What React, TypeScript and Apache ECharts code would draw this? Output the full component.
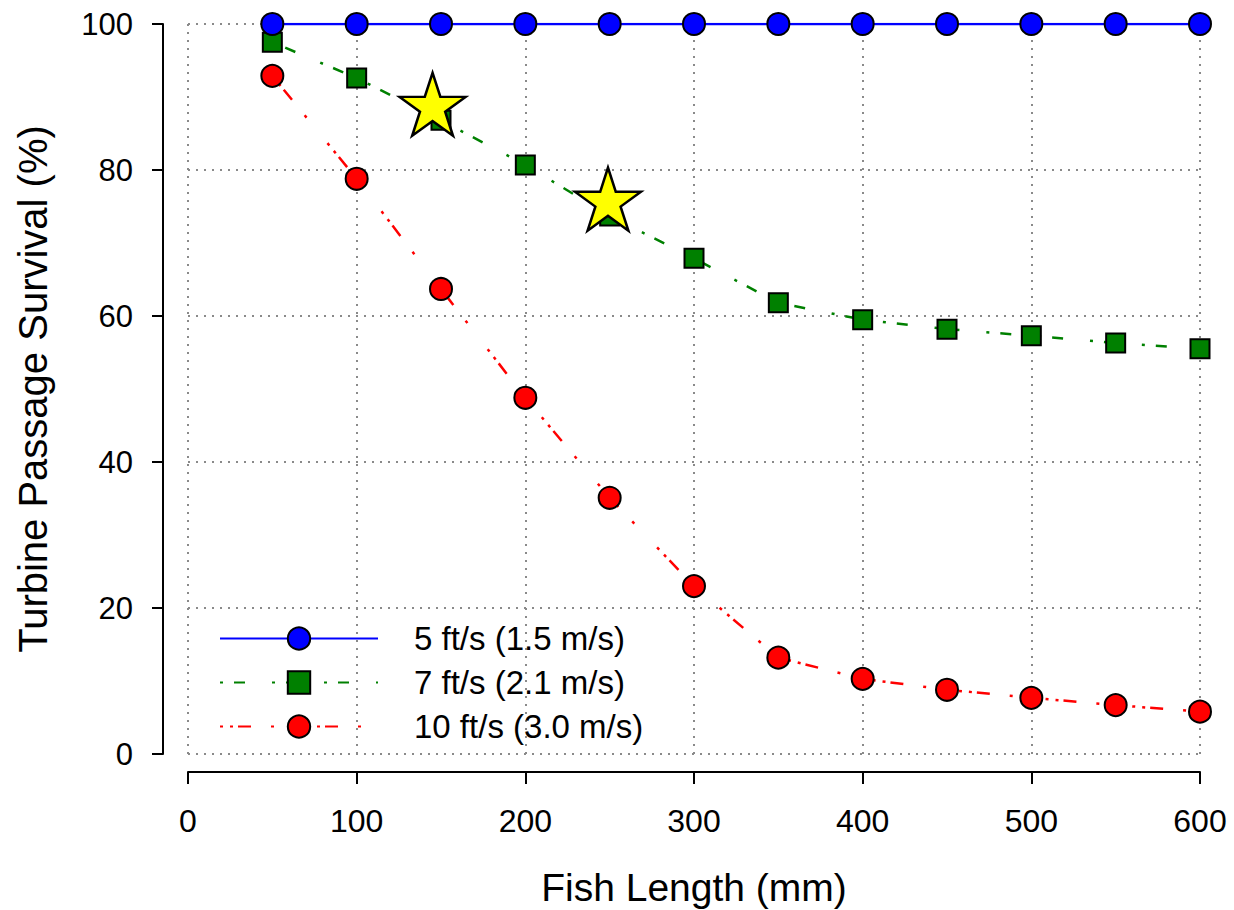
import React, { useEffect, useRef } from "react";
import * as echarts from "echarts";

const fishLength = [50, 100, 150, 200, 250, 300, 350, 400, 450, 500, 550, 600];
const survival5 = [100, 100, 100, 100, 100, 100, 100, 100, 100, 100, 100, 100];
const survival7 = [97.5, 92.6, 86.8, 80.7, 73.7, 67.9, 61.8, 59.5, 58.2, 57.3, 56.3, 55.5];
const survival10 = [92.9, 78.8, 63.7, 48.8, 35.1, 23.0, 13.2, 10.3, 8.8, 7.7, 6.7, 5.8];
const starX = [145, 249];
const starY = [89, 76];
const seriesNames = ["5 ft/s (1.5 m/s)", "7 ft/s (2.1 m/s)", "10 ft/s (3.0 m/s)"];
const xTitle = "Fish Length (mm)";
const yTitle = "Turbine Passage Survival (%)";

const STAR =
  "path://M50 0 L61.23 34.55 L97.55 34.55 L68.17 55.9 L79.39 90.45 L50 69.1 L20.61 90.45 L31.83 55.9 L2.45 34.55 L38.77 34.55 Z";

const FONT = "'Liberation Sans', Arial, sans-serif";

function pairs(xs: number[], ys: number[]) {
  return xs.map((x, i) => [x, ys[i]]);
}

export default function App() {
  const ref = useRef<HTMLDivElement>(null);
  useEffect(() => {
    if (!ref.current) return;
    const chart = echarts.init(ref.current, undefined, { renderer: "svg" });
    const grid = { type: [2, 6] as any, color: "#8a8a8a", width: 2 };
    chart.setOption({
      animation: false,
      backgroundColor: "#ffffff",
      textStyle: { fontFamily: FONT, color: "#000" },
      grid: {
        left: 188,
        right: 34,
        top: 24,
        bottom: 156,
        containLabel: false,
        outerBoundsMode: "none",
      },
      legend: {
        orient: "vertical",
        left: 214,
        top: 617,
        itemWidth: 158,
        itemHeight: 28,
        itemGap: 11,
        data: seriesNames,
        textStyle: {
          fontFamily: FONT,
          fontSize: 33,
          color: "#000",
          padding: [0, 0, 0, 31],
        },
      },
      xAxis: {
        type: "value",
        min: 0,
        max: 600,
        interval: 100,
        offset: 18,
        name: xTitle,
        nameLocation: "middle",
        nameGap: 96,
        nameTextStyle: { fontFamily: FONT, fontSize: 39, color: "#000" },
        axisLine: { show: true, onZero: false, lineStyle: { color: "#000", width: 2 } },
        axisTick: { show: true, inside: false, length: 12, lineStyle: { color: "#000", width: 2 } },
        axisLabel: { fontFamily: FONT, fontSize: 32, color: "#000", margin: 33 },
        splitLine: { show: true, lineStyle: grid },
      },
      yAxis: {
        type: "value",
        min: 0,
        max: 100,
        interval: 20,
        offset: 25,
        name: yTitle,
        nameLocation: "middle",
        nameGap: 110,
        nameTextStyle: { fontFamily: FONT, fontSize: 40, color: "#000" },
        axisLine: { show: true, onZero: false, lineStyle: { color: "#000", width: 2 } },
        axisTick: { show: true, inside: false, length: 11, lineStyle: { color: "#000", width: 2 } },
        axisLabel: { fontFamily: FONT, fontSize: 31, color: "#000", margin: 30 },
        splitLine: { show: true, lineStyle: grid },
      },
      series: [
        {
          name: seriesNames[2],
          type: "line",
          data: pairs(fishLength, survival10),
          symbol: "circle",
          symbolSize: 22,
          itemStyle: { color: "#ff0000", borderColor: "#000", borderWidth: 2 },
          lineStyle: { color: "#ff0000", width: 2.5, type: [3, 7, 3, 5, 13, 20, 3, 33] },
          z: 2,
        },
        {
          name: seriesNames[1],
          type: "line",
          data: pairs(fishLength, survival7),
          symbol: "rect",
          symbolSize: 19,
          itemStyle: { color: "#008000", borderColor: "#000", borderWidth: 2 },
          lineStyle: { color: "#008000", width: 2.5, type: [3, 11, 11, 27] },
          z: 3,
        },
        {
          name: seriesNames[0],
          type: "line",
          data: pairs(fishLength, survival5),
          symbol: "circle",
          symbolSize: 22,
          itemStyle: { color: "#0000ff", borderColor: "#000", borderWidth: 2 },
          lineStyle: { color: "#0000ff", width: 2.5, type: "solid" },
          z: 4,
        },
        {
          name: "stars",
          type: "scatter",
          data: pairs(starX, starY),
          symbol: STAR,
          symbolSize: [66, 63],
          itemStyle: { color: "#ffff00", borderColor: "#000", borderWidth: 2.5, opacity: 1 },
          z: 5,
        },
      ],
    });
    return () => chart.dispose();
  }, []);
  return (
    <div
      ref={ref}
      style={{ position: "fixed", left: 0, top: 0, width: 1234, height: 910, background: "#fff" }}
    />
  );
}
